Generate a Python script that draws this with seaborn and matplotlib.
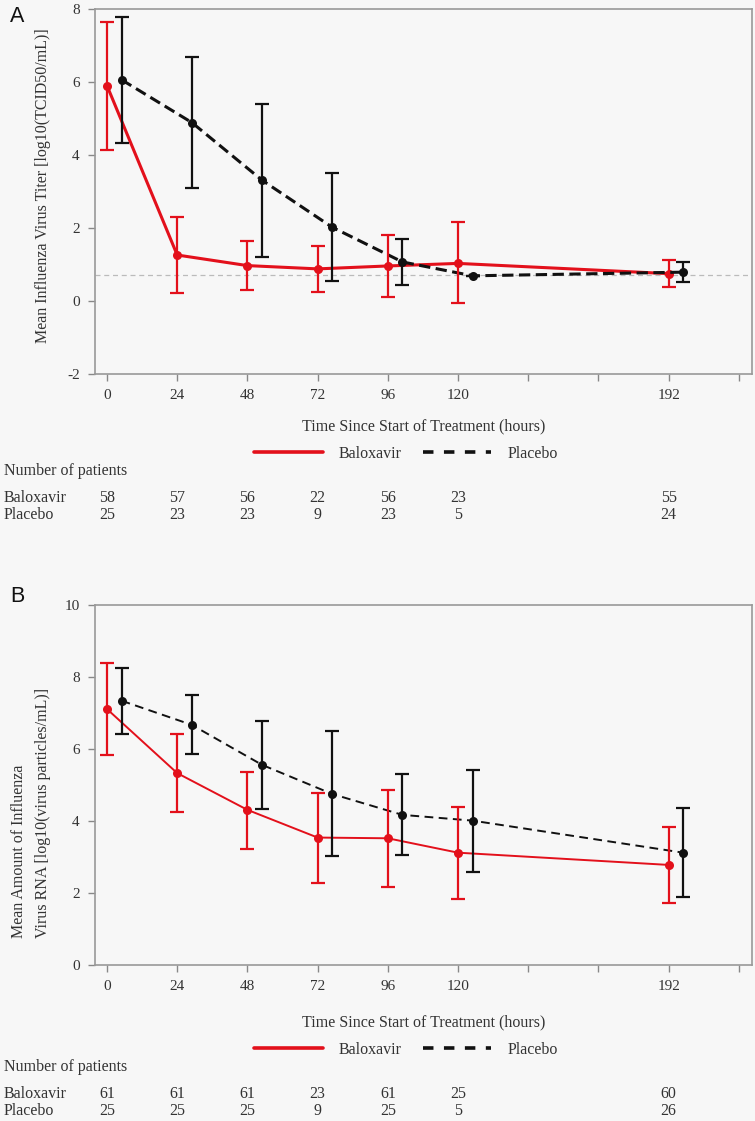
import numpy as np
import pandas as pd
import matplotlib
matplotlib.use("Agg")
import matplotlib.pyplot as plt
import seaborn as sns
from matplotlib.lines import Line2D

# ---- data ----
hours = [0, 24, 48, 72, 96, 120, 192]

# panel A: virus titer
titer_balox = [5.90, 1.26, 0.97, 0.88, 0.96, 1.03, 0.75]
titer_balox_lo = [4.15, 0.23, 0.30, 0.26, 0.12, -0.06, 0.38]
titer_balox_hi = [7.65, 2.29, 1.65, 1.50, 1.80, 2.16, 1.13]
titer_plac = [6.06, 4.89, 3.31, 2.02, 1.07, 0.69, 0.79]
titer_plac_lo = [4.34, 3.09, 1.21, 0.55, 0.44, 0.69, 0.52]
titer_plac_hi = [7.79, 6.69, 5.40, 3.50, 1.70, 0.69, 1.07]
titer_lloq = 0.70

# panel B: virus RNA
rna_balox = [7.11, 5.33, 4.31, 3.54, 3.52, 3.12, 2.78]
rna_balox_lo = [5.84, 4.26, 3.23, 2.27, 2.16, 1.82, 1.73]
rna_balox_hi = [8.40, 6.43, 5.36, 4.79, 4.87, 4.39, 3.83]
rna_plac = [7.34, 6.67, 5.56, 4.75, 4.17, 4.01, 3.12]
rna_plac_lo = [6.43, 5.86, 4.33, 3.03, 3.06, 2.59, 1.88]
rna_plac_hi = [8.26, 7.49, 6.78, 6.51, 5.30, 5.43, 4.36]

n_titer_balox = [58, 57, 56, 22, 56, 23, 55]
n_titer_plac = [25, 23, 23, 9, 23, 5, 24]
n_rna_balox = [61, 61, 61, 23, 61, 25, 60]
n_rna_plac = [25, 25, 25, 9, 25, 5, 26]

tick_hours = [0, 24, 48, 72, 96, 120, 144, 168, 192, 216]
tick_labels = ["0", "24", "48", "72", "96", "120", "", "", "192", ""]

RED = "#e3101b"
BLACK = "#111111"
TXT = "#333333"
BG = "#f7f7f7"
OFFSET = 5  # horizontal dodge for placebo (hours)

sns.set_theme(style="ticks")
plt.rcParams["font.family"] = ["Liberation Serif", "DejaVu Serif"]
plt.rcParams["axes.unicode_minus"] = False
plt.rcParams["text.color"] = TXT
plt.rcParams["axes.labelcolor"] = TXT
plt.rcParams["xtick.color"] = "#888888"
plt.rcParams["ytick.color"] = "#888888"
plt.rcParams["xtick.labelcolor"] = TXT
plt.rcParams["ytick.labelcolor"] = TXT

fig = plt.figure(figsize=(7.55, 11.21), dpi=100, facecolor=BG)
W, H = 755, 1121


def make_df(b, bl, bh, p, pl, ph):
    d1 = pd.DataFrame({"time": hours, "mean": b, "lo": bl, "hi": bh, "arm": "Baloxavir"})
    d2 = pd.DataFrame({"time": np.array(hours) + OFFSET, "mean": p, "lo": pl, "hi": ph, "arm": "Placebo"})
    return pd.concat([d1, d2], ignore_index=True)


def panel(ax, df, lw, dash, ylim, yticks, ylabel_lines, label_x, label_bottom, nb, npl, ypix, letter, letter_y):
    ax.set_facecolor(BG)
    sns.lineplot(data=df, x="time", y="mean", hue="arm", style="arm",
                 palette={"Baloxavir": RED, "Placebo": BLACK},
                 dashes={"Baloxavir": "", "Placebo": dash},
                 markers={"Baloxavir": "o", "Placebo": "o"},
                 markersize=6.5, markeredgewidth=0, linewidth=lw,
                 errorbar=None, legend=False, ax=ax, zorder=3)
    for arm, col in [("Baloxavir", RED), ("Placebo", BLACK)]:
        s = df[df["arm"] == arm]
        ax.errorbar(s["time"], s["mean"], yerr=[s["mean"] - s["lo"], s["hi"] - s["mean"]],
                    fmt="none", ecolor=col, elinewidth=1.6, capsize=4.7, capthick=1.6, zorder=4)
    ax.set_xlim(-4.1, 220.5)
    ax.set_ylim(*ylim)
    ax.set_yticks(yticks)
    ax.set_xticks(tick_hours)
    ax.set_xticklabels(tick_labels)
    ax.tick_params(labelsize=11, length=5, width=1, pad=6)
    ax.set_xlabel("")
    ax.set_ylabel("")
    for sp in ax.spines.values():
        sp.set_visible(True)
        sp.set_color("#999999")
        sp.set_linewidth(1.2)
    # x label
    ax.annotate("Time Since Start of Treatment (hours)", xy=(0.5, ypix[0]),
                xycoords=("axes fraction", "figure pixels"), ha="center", va="center", fontsize=11.5)
    # y label lines
    for i, line in enumerate(ylabel_lines):
        fig.text(label_x[i] / W, 1 - label_bottom / H, line, rotation=90,
                 ha="center", va="bottom", fontsize=11.5)
    # legend
    handles = [Line2D([], [], color=RED, lw=2.6),
               Line2D([], [], color=BLACK, lw=2.6, dashes=(2.9, 2.9))]
    fig.legend(handles, ["Baloxavir", "Placebo"], loc="center",
               bbox_to_anchor=(406 / W, 1 - ypix[1] / H), ncol=2, frameon=False,
               fontsize=11.5, handlelength=4.3, handletextpad=1.0, columnspacing=1.3)
    # patient numbers
    fig.text(4 / W, 1 - ypix[2] / H, "Number of patients", ha="left", va="center", fontsize=11.5)
    fig.text(4 / W, 1 - ypix[3] / H, "Baloxavir", ha="left", va="center", fontsize=11.5)
    fig.text(4 / W, 1 - ypix[4] / H, "Placebo", ha="left", va="center", fontsize=11.5)
    for h, a, b in zip(hours, nb, npl):
        ax.annotate(str(a), xy=(h, H - ypix[3]), xycoords=("data", "figure pixels"),
                    ha="center", va="center", fontsize=11.5, annotation_clip=False)
        ax.annotate(str(b), xy=(h, H - ypix[4]), xycoords=("data", "figure pixels"),
                    ha="center", va="center", fontsize=11.5, annotation_clip=False)
    fig.text(17 / W, 1 - letter_y / H, letter, family=["Liberation Sans", "DejaVu Sans"],
             fontsize=15.5, color="#111111", ha="center", va="center")


axA = fig.add_axes([95 / W, 1 - 374 / H, (752 - 95) / W, (374 - 9) / H])
dfA = make_df(titer_balox, titer_balox_lo, titer_balox_hi, titer_plac, titer_plac_lo, titer_plac_hi)
axA.axhline(titer_lloq, color="#bbbbbb", lw=0.9, ls=(0, (4, 3)), zorder=1)
panel(axA, dfA, 2.2, (3.7, 1.8), (-2, 8), [-2, 0, 2, 4, 6, 8],
      ["Mean Influenza Virus Titer [log10(TCID50/mL)]"], [43], 343,
      n_titer_balox, n_titer_plac, [H - 426, 454, 471, 498, 515], "A", 17)

axB = fig.add_axes([95 / W, 1 - 965 / H, (752 - 95) / W, (965 - 605) / H])
dfB = make_df(rna_balox, rna_balox_lo, rna_balox_hi, rna_plac, rna_plac_lo, rna_plac_hi)
panel(axB, dfB, 1.4, (4.5, 2.8), (0, 10), [0, 2, 4, 6, 8, 10],
      ["Mean Amount of Influenza", "Virus RNA [log10(virus particles/mL)]"], [19, 43], 938,
      n_rna_balox, n_rna_plac, [H - 1022, 1050, 1067, 1094, 1111], "B", 597)

fig.savefig("out.png", dpi=100, facecolor=BG)
